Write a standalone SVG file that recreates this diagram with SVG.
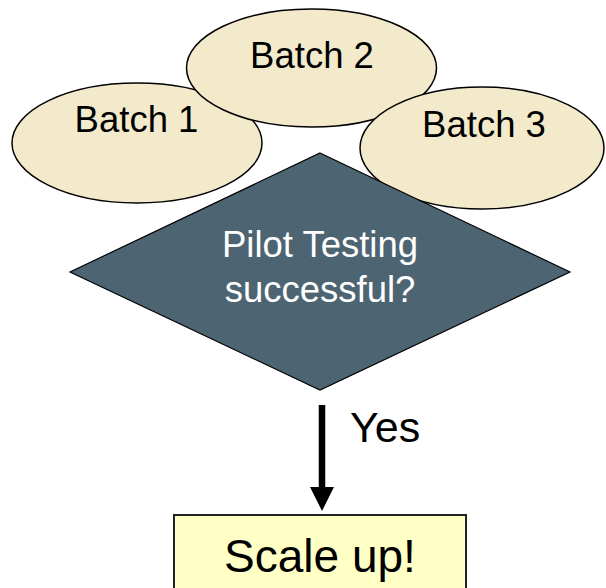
<svg xmlns="http://www.w3.org/2000/svg" width="606" height="588" viewBox="0 0 606 588">
  <defs>
    <style>
      .batch { fill: #f3eacb; stroke: #000; stroke-width: 1.5; }
      .batch-label { font-family: "Liberation Sans", Arial, sans-serif; font-size: 36.5px; fill: #000; text-anchor: middle; }
      .decision { fill: #4d6472; stroke: #000; stroke-width: 1.2; }
      .decision-label { font-family: "Liberation Sans", Arial, sans-serif; font-size: 36.5px; fill: #fff; text-anchor: middle; }
      .result { fill: #ffffc6; stroke: #222; stroke-width: 2; }
      .result-label { font-family: "Liberation Sans", Arial, sans-serif; font-size: 46px; fill: #000; text-anchor: middle; }
      .edge-label { font-family: "Liberation Sans", Arial, sans-serif; font-size: 43px; fill: #000; }
    </style>
  </defs>
  <rect width="606" height="588" fill="#fff"/>

  <g id="batch1">
    <ellipse class="batch" cx="137" cy="143" rx="125" ry="60"/>
    <text class="batch-label" x="136.5" y="132">Batch 1</text>
  </g>
  <g id="batch2">
    <ellipse class="batch" cx="311.5" cy="68" rx="125" ry="59"/>
    <text class="batch-label" x="312" y="68">Batch 2</text>
  </g>
  <g id="batch3">
    <ellipse class="batch" cx="482" cy="148" rx="122" ry="61"/>
    <text class="batch-label" x="484" y="137">Batch 3</text>
  </g>

  <g id="pilot-testing">
    <polygon class="decision" points="320,153 570,272 320,390 70,272"/>
    <text class="decision-label" x="320" y="257">Pilot Testing</text>
    <text class="decision-label" x="320" y="302">successful?</text>
  </g>

  <g id="connectors">
    <line x1="322" y1="405" x2="322" y2="488" stroke="#000" stroke-width="6.5"/>
    <polygon points="310,487 334,487 322,511" fill="#000"/>
    <text class="edge-label" x="350" y="442">Yes</text>
  </g>

  <g id="scale-up">
    <rect class="result" x="174" y="515" width="292" height="80"/>
    <text class="result-label" x="320" y="572">Scale up!</text>
  </g>
</svg>
